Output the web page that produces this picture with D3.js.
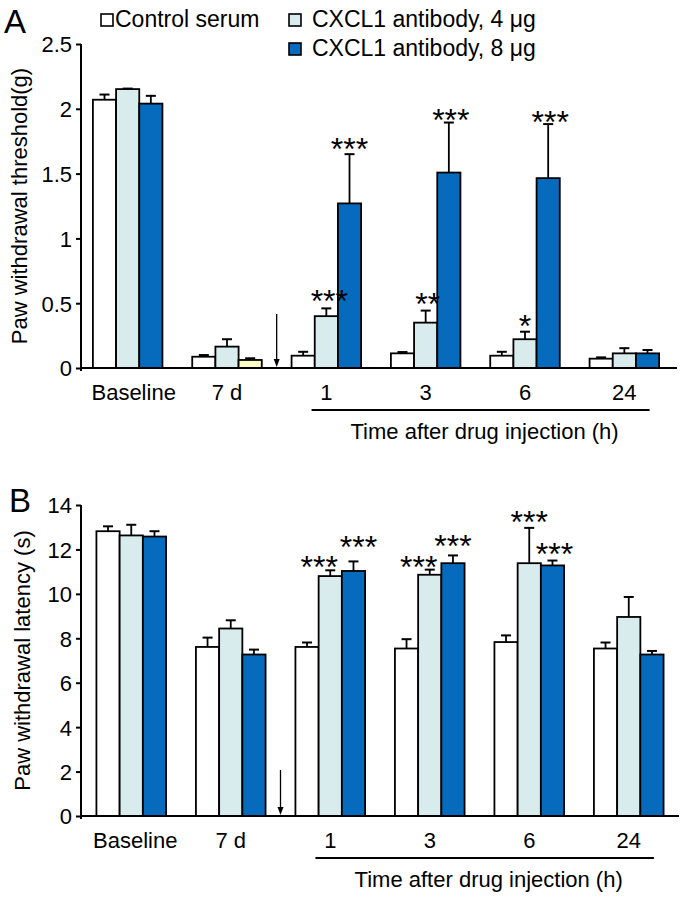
<!DOCTYPE html>
<html>
<head>
<meta charset="utf-8">
<script src="https://cdn.jsdelivr.net/npm/d3@7"></script>
<style>
  html, body { margin: 0; padding: 0; background: #fff; }
  svg { display: block; }
  text { font-family: "Liberation Sans", Arial, Helvetica, sans-serif; fill: #000; }
</style>
</head>
<body>
<svg id="chart" width="685" height="900"></svg>
<script>
// ---------------- DATA ----------------
const groups = ["Baseline", "7 d", "1", "3", "6", "24"];
const seriesNames = ["Control serum", "CXCL1 antibody, 4 \u03bcg", "CXCL1 antibody, 8 \u03bcg"];

// Panel A: Paw withdrawal threshold (g)
const aControl    = [2.07, 0.087, 0.095, 0.113, 0.095, 0.072];
const aAb4        = [2.152, 0.165, 0.40, 0.35, 0.222, 0.113];
const aAb8        = [2.04, 0.062, 1.27, 1.508, 1.465, 0.113];
const aControlErr = [0.04, 0.013, 0.03, 0.01, 0.03, 0.01];
const aAb4Err     = [0.004, 0.057, 0.06, 0.093, 0.058, 0.04];
const aAb8Err     = [0.06, 0.013, 0.38, 0.386, 0.417, 0.026];
const aTicks      = [0, 0.5, 1, 1.5, 2, 2.5];
const aStars = [
  { group: "1", series: 1, label: "***" },
  { group: "1", series: 2, label: "***" },
  { group: "3", series: 1, label: "**" },
  { group: "3", series: 2, label: "***" },
  { group: "6", series: 1, label: "*" },
  { group: "6", series: 2, label: "***" }
];

// Panel B: Paw withdrawal latency (s)
const bControl    = [12.82, 7.61, 7.61, 7.54, 7.83, 7.54];
const bAb4        = [12.63, 8.44, 10.80, 10.86, 11.38, 8.96];
const bAb8        = [12.58, 7.27, 11.03, 11.38, 11.28, 7.27];
const bControlErr = [0.22, 0.42, 0.20, 0.42, 0.30, 0.27];
const bAb4Err     = [0.48, 0.37, 0.26, 0.23, 1.59, 0.90];
const bAb8Err     = [0.24, 0.22, 0.43, 0.35, 0.22, 0.16];
const bTicks      = [0, 2, 4, 6, 8, 10, 12, 14];
const bStars = [
  { group: "1", series: 1, label: "***" },
  { group: "1", series: 2, label: "***" },
  { group: "3", series: 1, label: "***" },
  { group: "3", series: 2, label: "***" },
  { group: "6", series: 1, label: "***" },
  { group: "6", series: 2, label: "***" }
];

// ---------------- STYLE / LAYOUT ----------------
const seriesColors = ["#ffffff", "#d8ebed", "#066bbd"];
const oddBarColor = "#ffffc6"; // panel A, 7 d, 8 µg bar is drawn pale yellow in the original
const FONT = 22;
const aStarNudge = [[3, -15], [0, -12], [2, -14], [2, -10], [0, -13], [2, -9]];
const bStarNudge = [[-11, -11], [5, -22], [-11, -10], [0, -17], [0, -13], [2, -14]];

const svg = d3.select("#chart");

function buildRows(means, errs) {
  return groups.map((g, gi) => ({
    group: g,
    vals: means.map((m, si) => ({ series: si, value: m[gi], err: errs[si][gi] }))
  }));
}

function drawPanel(opts) {
  const g = svg.append("g");
  const x = d3.scaleBand().domain(groups).range(opts.xRange).paddingInner(0.3).paddingOuter(0.15);
  const xs = d3.scaleBand().domain([0, 1, 2]).range([0, x.bandwidth()]).padding(0);
  const y = d3.scaleLinear().domain(opts.yDomain).range(opts.yRange);
  const rows = buildRows(opts.means, opts.errs);

  // bars
  const gg = g.selectAll("g.grp").data(rows).join("g")
    .attr("transform", d => `translate(${x(d.group)},0)`);
  gg.selectAll("rect").data(d => d.vals.map(v => Object.assign({ group: d.group }, v))).join("rect")
    .attr("x", d => xs(d.series))
    .attr("width", xs.bandwidth())
    .attr("y", d => y(d.value))
    .attr("height", d => y(0) - y(d.value))
    .attr("fill", d => (opts.odd && opts.odd.group === d.group && opts.odd.series === d.series) ? oddBarColor : seriesColors[d.series])
    .attr("stroke", "#000")
    .attr("stroke-width", 1.8);

  // error bars (upper only)
  const eb = gg.selectAll("g.err").data(d => d.vals).join("g");
  eb.append("line")
    .attr("x1", d => xs(d.series) + xs.bandwidth() / 2)
    .attr("x2", d => xs(d.series) + xs.bandwidth() / 2)
    .attr("y1", d => y(d.value))
    .attr("y2", d => y(d.value + d.err))
    .attr("stroke", "#000").attr("stroke-width", 1.8);
  eb.append("line")
    .attr("x1", d => xs(d.series) + xs.bandwidth() / 2 - 5)
    .attr("x2", d => xs(d.series) + xs.bandwidth() / 2 + 5)
    .attr("y1", d => y(d.value + d.err))
    .attr("y2", d => y(d.value + d.err))
    .attr("stroke", "#000").attr("stroke-width", 2);

  // y axis
  const ya = g.append("g").attr("transform", `translate(${opts.axisX},0)`)
    .call(d3.axisLeft(y).tickValues(opts.ticks).tickSize(5).tickSizeOuter(0).tickPadding(4)
      .tickFormat(d3.format("")));
  ya.select(".domain").attr("stroke-width", 2).attr("d", `M0,${y(opts.yDomain[1])}V${y(0) + 3}`);
  ya.selectAll(".tick line").attr("stroke-width", 2);
  ya.selectAll(".tick text").attr("font-size", FONT).attr("font-family", "Liberation Sans, Arial, sans-serif").attr("dy", "0.36em");

  // x axis baseline
  g.append("line").attr("x1", opts.axisX).attr("x2", opts.axisEnd)
    .attr("y1", y(0)).attr("y2", y(0)).attr("stroke", "#000").attr("stroke-width", 2);

  // x labels
  const xa = g.append("g").attr("transform", `translate(0,${y(0)})`)
    .call(d3.axisBottom(x).tickSize(0).tickPadding(0));
  xa.select(".domain").remove();
  xa.selectAll(".tick text").attr("font-size", FONT).attr("font-family", "Liberation Sans, Arial, sans-serif")
    .attr("y", 32).attr("dy", 0)
    .attr("dx", d => d === "Baseline" ? opts.baselineDx : 0);

  // underline and "Time after" title
  const u1 = x("1") + 20, u2 = x("24") + 60;
  g.append("line").attr("x1", u1).attr("x2", u2).attr("y1", y(0) + 42).attr("y2", y(0) + 42)
    .attr("stroke", "#000").attr("stroke-width", 2);
  g.append("text").attr("x", (u1 + u2) / 2 + 4).attr("y", y(0) + 71).attr("text-anchor", "middle")
    .attr("font-size", FONT).text("Time after drug injection (h)");

  // arrow (drug injection)
  const ax = (x("7 d") + x.bandwidth() + x("1")) / 2;
  g.append("line").attr("x1", ax).attr("x2", ax).attr("y1", opts.arrowTop).attr("y2", y(0) - 8)
    .attr("stroke", "#000").attr("stroke-width", 1.3);
  g.append("path").attr("d", `M${ax - 3},${y(0) - 9}L${ax + 3},${y(0) - 9}L${ax},${y(0) - 1}Z`).attr("fill", "#000");

  // significance stars
  const sf = 32;
  opts.stars.forEach((s, i) => {
    const row = rows[groups.indexOf(s.group)].vals[s.series];
    const cx = x(s.group) + xs(s.series) + xs.bandwidth() / 2 + opts.nudge[i][0];
    const cy = y(row.value + row.err) + opts.nudge[i][1];
    g.append("text").attr("x", cx).attr("y", cy + 0.57 * sf).attr("text-anchor", "middle")
      .attr("font-size", sf).text(s.label);
  });

  // y title
  g.append("text").attr("transform", `translate(${opts.yTitleX},${(y(0) + y(opts.yDomain[1])) / 2}) rotate(-90)`)
    .attr("text-anchor", "middle").attr("font-size", FONT).text(opts.yTitle);

  // panel letter
  g.append("text").attr("x", opts.letterX).attr("y", opts.letterY).attr("font-size", 33).text(opts.letter);
  return { x, y };
}

drawPanel({
  letter: "A", letterX: 4, letterY: 33,
  xRange: [78, 674], axisX: 81, axisEnd: 677,
  yDomain: [0, 2.5], yRange: [368, 44], ticks: aTicks,
  means: [aControl, aAb4, aAb8], errs: [aControlErr, aAb4Err, aAb8Err],
  odd: { group: "7 d", series: 2 },
  stars: aStars, nudge: aStarNudge, baselineDx: 6,
  arrowTop: 314, yTitleX: 27, yTitle: "Paw withdrawal threshold(g)"
});

drawPanel({
  letter: "B", letterX: 9, letterY: 512,
  xRange: [81.5, 678.5], axisX: 81, axisEnd: 679,
  yDomain: [0, 14], yRange: [816, 505], ticks: bTicks,
  means: [bControl, bAb4, bAb8], errs: [bControlErr, bAb4Err, bAb8Err],
  odd: null,
  stars: bStars, nudge: bStarNudge, baselineDx: 4,
  arrowTop: 770, yTitleX: 30, yTitle: "Paw withdrawal latency (s)"
});

// legend
const legend = svg.append("g");
const legendItems = [
  { series: 0, bx: 101, by: 14, tx: 115, ty: 27 },
  { series: 1, bx: 289, by: 14, tx: 312, ty: 27 },
  { series: 2, bx: 289, by: 43, tx: 312, ty: 56 }
];
legendItems.forEach(it => {
  legend.append("rect").attr("x", it.bx).attr("y", it.by).attr("width", 12).attr("height", 12)
    .attr("fill", seriesColors[it.series]).attr("stroke", "#000").attr("stroke-width", 1.6);
  legend.append("text").attr("x", it.tx).attr("y", it.ty).attr("font-size", 23).text(seriesNames[it.series]);
});
</script>
</body>
</html>
